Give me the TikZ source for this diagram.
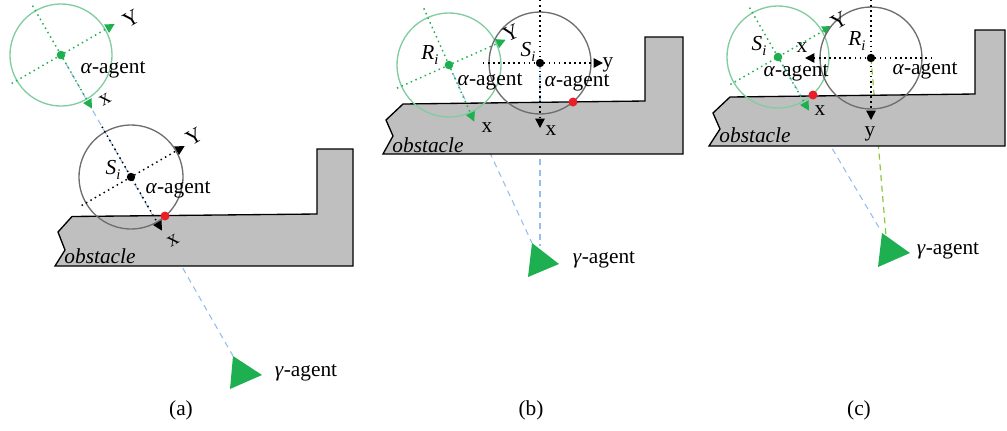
\documentclass[tikz,border=0pt]{standalone}
\usepackage{fontspec}
\setmainfont{Liberation Serif}
\usetikzlibrary{arrows.meta}
\definecolor{gdot}{RGB}{30,176,80}
\definecolor{gcirc}{RGB}{130,205,160}
\definecolor{bcirc}{RGB}{110,110,110}
\definecolor{obst}{RGB}{191,191,191}
\definecolor{bdash}{RGB}{150,190,235}
\definecolor{ldash}{RGB}{140,200,60}
\definecolor{rdot}{RGB}{235,30,40}
\newcommand{\agname}[1]{\textit{#1}\raisebox{-0.45ex}{\fontsize{11}{12}\selectfont\textit{i}}}
\begin{document}
\begin{tikzpicture}[x=0.75pt,y=0.75pt,
  lbl/.style={font=\fontsize{16}{19}\selectfont, inner sep=0pt},
  gring/.style={draw=gcirc, line width=1pt},
  bring/.style={draw=bcirc, line width=1pt},
  gaxis/.style={draw=gdot, line width=1.1pt, dash pattern=on 1.1pt off 2.7pt,
    -{Triangle[length=7pt,width=7pt]}},
  baxis/.style={draw=black, line width=1.1pt, dash pattern=on 1.1pt off 2.7pt,
    -{Triangle[length=7pt,width=7pt]}},
  sight/.style={draw=bdash, line width=0.8pt, dash pattern=on 4.5pt off 3.5pt},
  sightg/.style={draw=ldash, line width=0.9pt, dash pattern=on 4.5pt off 3.5pt},
  wall/.style={draw=black, fill=obst, line width=1pt, line join=miter},
  leader/.style={fill=gdot},
]
\useasboundingbox (0,0) rectangle (1007,-430);

% ---------- centres and gamma-agent tips ----------
\coordinate (gA) at (61,-55);   \coordinate (sA) at (131,-177);
\coordinate (tA) at (233,-356);
\coordinate (gB) at (449,-65);  \coordinate (sB) at (540,-63);
\coordinate (tB) at (532,-243); \coordinate (tB2) at (540,-246);
\coordinate (gC) at (778,-57);  \coordinate (sC) at (871,-58);
\coordinate (tC) at (881,-231); \coordinate (tC2) at (886,-236);

% ---------- lines of sight ----------
\draw[sight] (gA) -- (tA);
\draw[sight] (gB) -- (tB);
\draw[sight] (sB) -- (tB2);
\draw[sight] (gC) -- (tC);
\draw[sightg] (sC) -- (tC2);

% ---------- obstacles ----------
\draw[wall] (72,-216.5) -- (58,-232) -- (65,-250) -- (55,-266) -- (353,-266)
  -- (353,-149) -- (317,-149) -- (317,-214) -- cycle;
\draw[wall] (403,-104) -- (386,-120) -- (393,-136) -- (383,-154) -- (683,-154)
  -- (683,-37) -- (645,-37) -- (645,-101) -- cycle;
\draw[wall] (730,-97) -- (713,-113) -- (720,-129) -- (709,-146) -- (1005,-146)
  -- (1005,-30) -- (975,-30) -- (975,-94) -- cycle;

% ---------- panel (a) frames ----------
\begin{scope}[shift={(gA)}, rotate=30]
  \draw[gring] (0,0) circle (51);
  \draw[gaxis] (0,57) -- (0,-62);
  \draw[gaxis] (-57,0) -- (62,0);
\end{scope}
\begin{scope}[shift={(sA)}, rotate=30]
  \draw[bring] (0,0) circle (52);
  \draw[baxis] (0,58) -- (0,-62);
  \draw[baxis] (-57,0) -- (62,0);
\end{scope}
\fill[gdot] (gA) circle (4.3);
\fill[black] (sA) circle (4.2);
\fill[rdot] (165,-216) circle (4.5);

% ---------- panel (b) frames ----------
\begin{scope}[shift={(gB)}, rotate=24]
  \draw[gring] (0,0) circle (52);
  \draw[gaxis] (0,62) -- (0,-62);
  \draw[gaxis] (-57,0) -- (62,0);
\end{scope}
\begin{scope}[shift={(sB)}]
  \draw[bring] (0,0) circle (51);
  \draw[baxis] (0,63) -- (0,-65);
  \draw[baxis] (-57,0) -- (63,0);
\end{scope}
\fill[gdot] (gB) circle (4.3);
\fill[black] (sB) circle (4.2);
\fill[rdot] (573,-102) circle (4.5);

% ---------- panel (c) frames ----------
\begin{scope}[shift={(gC)}, rotate=30]
  \draw[gring] (0,0) circle (51);
  \draw[gaxis] (0,57) -- (0,-62);
  \draw[gaxis] (-55,0) -- (62,0);
\end{scope}
\begin{scope}[shift={(sC)}]
  \draw[bring] (0,0) circle (51);
  \draw[baxis] (0,58) -- (0,-62);
  \draw[baxis] (61,0) -- (-66,0);
\end{scope}
\fill[gdot] (gC) circle (4.3);
\fill[black] (sC) circle (4.2);
\fill[rdot] (813,-95) circle (4.5);

% ---------- gamma-agents ----------
\fill[leader] (233,-356) -- (262,-375) -- (230,-389) -- cycle;
\fill[leader] (532,-243) -- (559,-264) -- (528,-277) -- cycle;
\fill[leader] (882,-233) -- (910,-253) -- (878,-267) -- cycle;

% ---------- labels (a) ----------
\node[lbl] (aA1) at (113,-70) {\textit{α}-agent};
\node[lbl] (aA2) at (178,-190) {\textit{α}-agent};
\node[lbl] (nA) at (113,-170) {\agname{S}};
\node[lbl, rotate=30] (yA1) at (131,-19) {Y};
\node[lbl, rotate=30] (xA1) at (105,-100) {x};
\node[lbl, rotate=30] (yA2) at (194,-137) {Y};
\node[lbl, rotate=30] (xA2) at (173,-241) {x};
\node[lbl] (cA) at (306,-373) {\textit{γ}-agent};
\node[lbl] (oA) at (100,-256) {\textit{obstacle}};
\node[lbl] (capA) at (181,-410) {(a)};

% ---------- labels (b) ----------
\node[lbl] (nB1) at (430,-55) {\agname{R}};
\node[lbl, rotate=24] (yB1) at (511,-33) {Y};
\node[lbl] (xB1) at (487,-128) {x};
\node[lbl] (aB1) at (490,-82) {\textit{α}-agent};
\node[lbl] (nB2) at (528,-52) {\agname{S}};
\node[lbl] (aB2) at (577,-83) {\textit{α}-agent};
\node[lbl] (yB2) at (608,-65) {y};
\node[lbl] (xB2) at (551,-131) {x};
\node[lbl] (cB) at (604,-260) {\textit{γ}-agent};
\node[lbl] (oB) at (428,-145) {\textit{obstacle}};
\node[lbl] (capB) at (531,-410) {(b)};

% ---------- labels (c) ----------
\node[lbl] (nC1) at (759,-46) {\agname{S}};
\node[lbl] (xC1) at (820,-111) {x};
\node[lbl, rotate=30] (yC1) at (839,-21) {Y};
\node[lbl] (nC2) at (857,-41) {\agname{R}};
\node[lbl] (xC2) at (802,-48) {x};
\node[lbl] (yC2) at (870,-134) {y};
\node[lbl] (aC1) at (796,-73) {\textit{α}-agent};
\node[lbl] (aC2) at (925,-71) {\textit{α}-agent};
\node[lbl] (cC) at (948,-251) {\textit{γ}-agent};
\node[lbl] (oC) at (755,-135) {\textit{obstacle}};
\node[lbl] (capC) at (859,-410) {(c)};
\end{tikzpicture}
\end{document}
